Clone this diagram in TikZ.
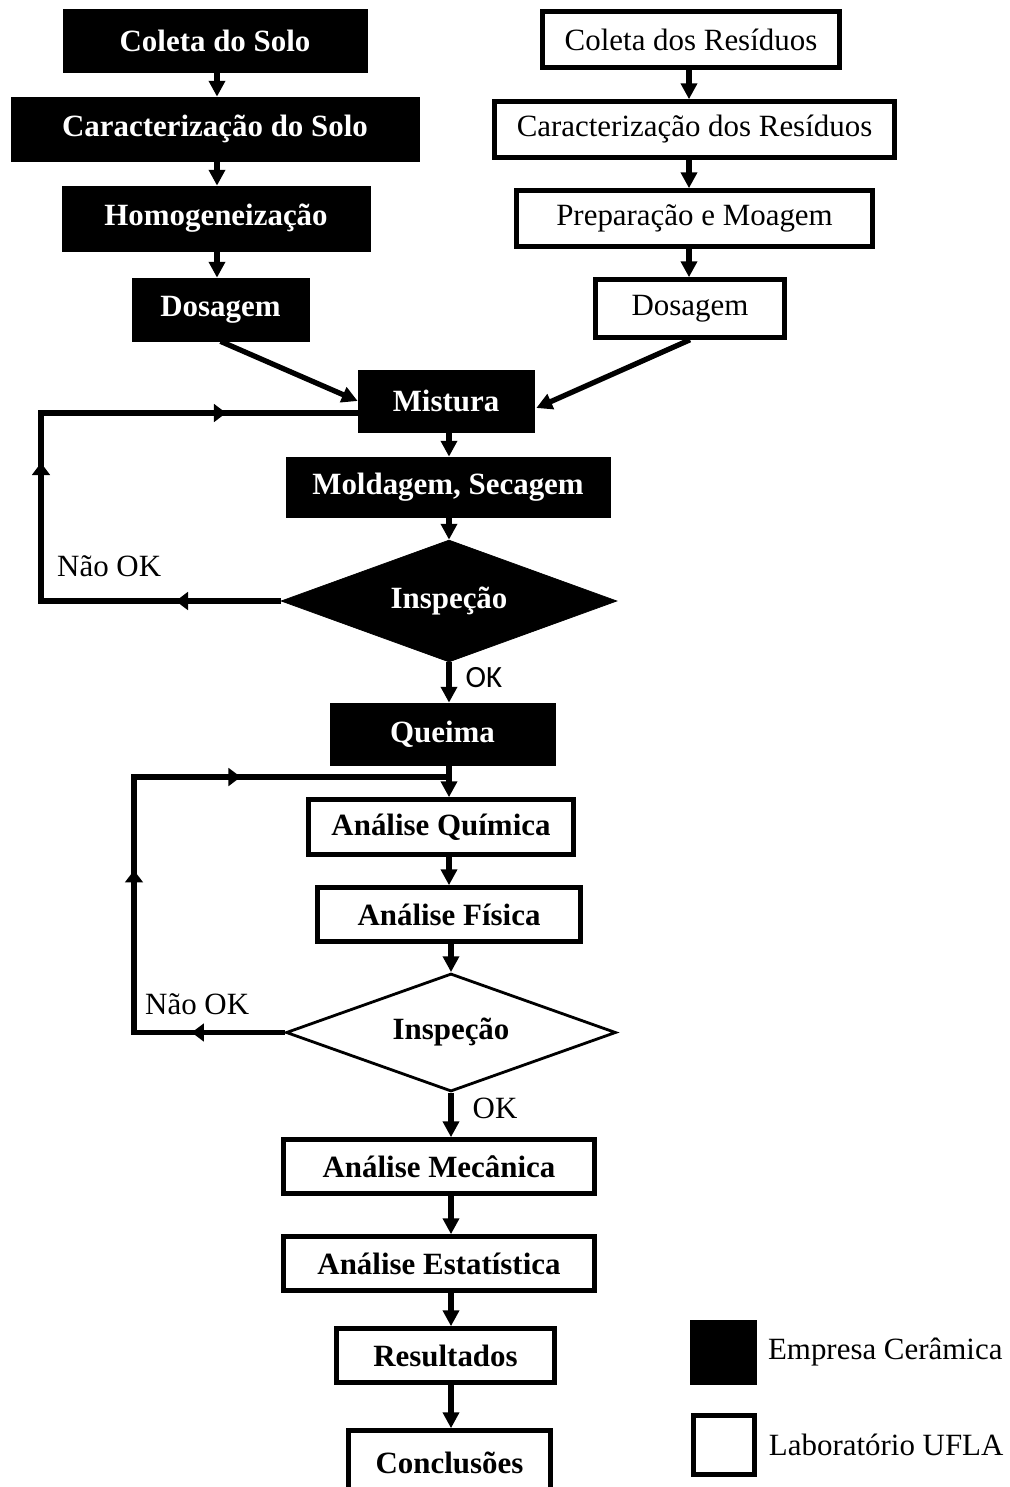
\documentclass[tikz,border=0pt]{standalone}
\usepackage{fontspec}
\setmainfont{Liberation Serif}
\newfontfamily\okfont{Carlito}
\usepackage{tikz}
\usetikzlibrary{arrows.meta, positioning, shapes.geometric, calc, decorations.markings}

\newcommand\fsz{\fontsize{17.6}{20}\selectfont}

\tikzset{
  blk/.style={draw, fill=black, text=white, font=\fsz\bfseries, inner sep=0pt},
  lab/.style={draw, line width=2.6pt, fill=white, font=\fsz, inner sep=0pt},
  labb/.style={lab, font=\fsz\bfseries},
  dec/.style={diamond, draw, aspect=2.75, inner sep=0pt, font=\fsz\bfseries},
  arr/.style={line width=3pt, -{Triangle[width=9pt,length=9pt]}},
  fb/.style={line width=3pt, postaction=decorate},
  txt/.style={font=\fsz},
}

\begin{document}
\begin{tikzpicture}[x=0.02cm, y=-0.02cm]
      \useasboundingbox (0,0) rectangle (1010,1487);

      % columns for the arrows
      \coordinate (lc) at (217,0);
      \coordinate (rc) at (689,0);
      \coordinate (mc) at (449,0);

      % solo (empresa)
      \node[blk, minimum width=6.08cm, minimum height=1.26cm] (s1) at (215,40.5) {Coleta do Solo};
      \node[blk, minimum width=8.16cm, minimum height=1.28cm] (s2) at (215,129) {Caracterização do Solo};
      \node[blk, minimum width=6.16cm, minimum height=1.3cm] (s3) at (216,218.5) {Homogeneização};
      \node[blk, minimum width=3.54cm, minimum height=1.26cm] (s4) at (220.5,309.5) {Dosagem};

      % residuos (laboratorio)
      \node[lab, minimum width=5.94cm, minimum height=1.12cm] (r1) at (691,39.5) {Coleta dos Resíduos};
      \node[lab, minimum width=8.0cm, minimum height=1.12cm] (r2) at (694.5,129.5) {Caracterização dos Resíduos};
      \node[lab, minimum width=7.12cm, minimum height=1.12cm] (r3) at (694.5,218.5) {Preparação e Moagem};
      \node[lab, minimum width=3.78cm, minimum height=1.16cm] (r4) at (690,308.5) {Dosagem};

      \node[blk, minimum width=3.52cm, minimum height=1.24cm] (mist) at (446,401) {Mistura};
      \node[blk, minimum width=6.48cm, minimum height=1.2cm] (mold) at (448,487) {Moldagem, Secagem};
      \node[dec, fill=black, text=white, minimum width=6.72cm, minimum height=2.44cm] (insp1) at (449,601) {Inspeção};
      \node[blk, minimum width=4.5cm, minimum height=1.24cm] (queima) at (442.5,734) {Queima};

      \node[labb, minimum width=5.3cm, minimum height=1.1cm] (aq) at (441,827) {Análise Química};
      \node[labb, minimum width=5.26cm, minimum height=1.08cm] (af) at (449,914.5) {Análise Física};
      \node[dec, line width=1.6pt, minimum width=6.6cm, minimum height=2.36cm] (insp2) at (451,1032.5) {Inspeção};
      \node[labb, minimum width=6.22cm, minimum height=1.08cm] (am) at (439,1166.5) {Análise Mecânica};
      \node[labb, minimum width=6.22cm, minimum height=1.08cm] (ae) at (439,1263.5) {Análise Estatística};
      \node[labb, minimum width=4.36cm, minimum height=1.08cm] (res) at (445.5,1355.5) {Resultados};
      \node[labb, minimum width=4.04cm, minimum height=1.3cm] (conc) at (449.5,1463) {Conclusões};

      % labels
      \node[txt, anchor=west] (no1) at (51,566) {Não OK};
      \node[txt, anchor=west] (no2) at (139,1004) {Não OK};
      \node[font=\okfont\fsz] (ok1) at (484,678) {OK};
      \node[txt] (ok2) at (495,1108) {OK};

      % legenda
      \node[fill=black, minimum width=1.34cm, minimum height=1.3cm, inner sep=0pt] (k1) at (723,1352.5) {};
      \node[lab, minimum width=1.22cm, minimum height=1.18cm] (k2) at (724,1445) {};
      \node[txt, right=0.1cm of k1] (t1) {Empresa Cerâmica};
      \node[txt, right=0.12cm of k2] (t2) {Laboratório UFLA};

      % arrows
      \draw[arr] (s1.south -| lc) -- (s2.north -| lc);
      \draw[arr] (s2.south -| lc) -- (s3.north -| lc);
      \draw[arr] (s3.south -| lc) -- (s4.north -| lc);
      \draw[arr] (r1.south -| rc) -- (r2.north -| rc);
      \draw[arr] (r2.south -| rc) -- (r3.north -| rc);
      \draw[arr] (r3.south -| rc) -- (r4.north -| rc);
      \draw[arr] (s4.south) -- (mist.west);
      \draw[arr] (r4.south) -- ($(mist.east)+(2,7)$);
      \draw[arr] (mist.south -| mc) -- (mold.north -| mc);
      \draw[arr] (mold.south -| mc) -- (insp1.north);
      \draw[arr] (insp1.south) -- (queima.north -| mc);
      \draw[arr] (queima.south -| mc) -- (aq.north -| mc);
      \draw[arr] (aq.south -| mc) -- (af.north -| mc);
      \draw[arr] (af.south -| insp2.north) -- (insp2.north);
      \draw[arr] (insp2.south) -- (am.north -| insp2.south);
      \draw[arr] (am.south -| insp2.south) -- (ae.north -| insp2.south);
      \draw[arr] (ae.south -| insp2.south) -- (res.north -| insp2.south);
      \draw[arr] (res.south -| insp2.south) -- (conc.north -| insp2.south);

      % loops (nao ok)
      \coordinate (n1) at (41,601);
      \coordinate (n2) at (41,413);
      \coordinate (n3) at (134,1032.5);
      \coordinate (n4) at (134,777);
      \coordinate (j2) at (449,777);
      \draw[fb, decoration={markings,
          mark=at position 2.1cm with {\arrow{Triangle[width=10pt,length=7pt]}},
          mark=at position 7.56cm with {\arrow{Triangle[width=10pt,length=7pt]}},
          mark=at position 12.26cm with {\arrow{Triangle[width=10pt,length=7pt]}}}]
        (insp1.west) -- (n1) -- (n2) -- ($(mist.west)+(0,12)$);
      \draw[fb, decoration={markings,
          mark=at position 1.86cm with {\arrow{Triangle[width=10pt,length=7pt]}},
          mark=at position 6.26cm with {\arrow{Triangle[width=10pt,length=7pt]}},
          mark=at position 10.26cm with {\arrow{Triangle[width=10pt,length=7pt]}}}]
        (insp2.west) -- (n3) -- (n4) -- (j2);
\end{tikzpicture}
\end{document}
